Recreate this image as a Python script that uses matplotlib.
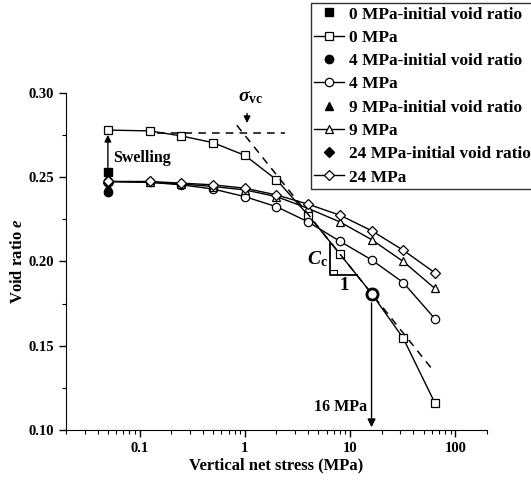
import matplotlib
matplotlib.use("Agg")
import matplotlib.pyplot as plt
import numpy as np

plt.rcParams['font.family'] = 'Liberation Serif'
plt.rcParams['font.weight'] = 'bold'
plt.rcParams['mathtext.fontset'] = 'custom'
plt.rcParams['mathtext.rm'] = 'Liberation Serif:bold'
plt.rcParams['mathtext.it'] = 'Liberation Serif:bold:italic'
plt.rcParams['mathtext.bf'] = 'Liberation Serif:bold'

# vertical net stress (MPa)
stress = [0.05, 0.125, 0.25, 0.5, 1, 2, 4, 8, 16, 32, 64]
# void ratio for each suction series
e_0 = [0.278, 0.2775, 0.2745, 0.2705, 0.263, 0.2485, 0.2275, 0.2045, 0.181, 0.1545, 0.116]
e_4 = [0.2475, 0.247, 0.2455, 0.243, 0.2385, 0.2325, 0.2235, 0.212, 0.201, 0.1875, 0.166]
e_9 = [0.2475, 0.247, 0.246, 0.2445, 0.2425, 0.2385, 0.2315, 0.2235, 0.213, 0.2, 0.184]
e_24 = [0.2475, 0.2475, 0.2465, 0.2455, 0.2435, 0.2395, 0.234, 0.2275, 0.2183, 0.2067, 0.1933]
# initial void ratios at the first stress
e_init = [0.253, 0.241, 0.2445, 0.2465]
suctions = ["0", "4", "9", "24"]
markers = ["s", "o", "^", "D"]

# construction lines (Casagrande)
e_horiz = 0.2763
cc_point = (16, 0.181)
cc_slope = 0.078

fig = plt.figure(figsize=(5.31, 4.86), dpi=100)
ax = fig.add_axes([66 / 531, 56 / 486, 421 / 531, 337 / 486])

handles = []
for i, (s, m, ev) in enumerate(zip(suctions, markers, [e_0, e_4, e_9, e_24])):
    ms = 5.5 if m == "D" else 6
    h1, = ax.plot([stress[0]], [e_init[i]], linestyle='none', marker=m, color='black',
                  markersize=ms, label=f"{s} MPa-initial void ratio", zorder=2)
    h2, = ax.plot(stress, ev, '-', color='black', linewidth=1, marker=m, markersize=ms,
                  markerfacecolor='white', markeredgecolor='black', markeredgewidth=0.9,
                  label=f"{s} MPa", zorder=3)
    handles += [h1, h2]

# dashed construction lines
ax.plot([0.145, 2.4], [e_horiz, e_horiz], '--', color='black', linewidth=1.1, dashes=(5, 4), zorder=4)
xs = np.array([0.84, 62])
ys = cc_point[1] - cc_slope * np.log10(xs / cc_point[0])
ax.plot(xs, ys, '--', color='black', linewidth=1.1, dashes=(5, 4), zorder=4)

# 16 MPa point
ax.plot([cc_point[0]], [cc_point[1]], 'o', markersize=8, markerfacecolor='white',
        markeredgecolor='black', markeredgewidth=2, zorder=6)
ax.annotate('', xy=(cc_point[0], 0.1), xytext=(cc_point[0], cc_point[1] - 0.004),
            arrowprops=dict(arrowstyle='-|>', color='black', lw=1, mutation_scale=12), zorder=5)
ax.text(14.5, 0.1135, '16 MPa', ha='right', va='center', fontsize=11.5, fontweight='bold')

# swelling arrow
ax.annotate('', xy=(stress[0], e_0[0] - 0.0012), xytext=(stress[0], e_init[0] + 0.0012),
            arrowprops=dict(arrowstyle='-|>', color='black', lw=1, mutation_scale=10))
ax.text(0.056, 0.2615, 'Swelling', ha='left', va='center', fontsize=11.5, fontweight='bold')

# sigma_vc arrow
ax.annotate('', xy=(1.05, 0.2805), xytext=(1.05, 0.2895),
            arrowprops=dict(arrowstyle='-|>', color='black', lw=1, mutation_scale=10))
ax.text(1.13, 0.2925, r'$\mathit{\sigma}_{\rm vc}$', ha='center', va='bottom', fontsize=14)

# Cc triangle
x_v = 6.5
e_b = 0.192
e_top = cc_point[1] - cc_slope * np.log10(x_v / cc_point[0])
x_end = cc_point[0] * 10 ** ((cc_point[1] - e_b) / cc_slope)
ax.plot([x_v, x_v, x_end], [e_top, e_b, e_b], '-', color='black', linewidth=1.3, zorder=5)
ax.plot([x_v, x_v * 1.15, x_v * 1.15], [e_b + 0.003, e_b + 0.003, e_b], '-', color='black', linewidth=0.8, zorder=5)
ax.text(6.2, 0.2015, r'$C_{\rm c}$', ha='right', va='center', fontsize=14)
ax.text(8.7, 0.1855, '1', ha='center', va='center', fontsize=13.5, fontweight='bold')

ax.set_xscale('log')
ax.set_xlim(0.02, 200)
ax.set_ylim(0.10, 0.30)
ax.set_xticks([0.1, 1, 10, 100])
ax.set_xticklabels(['0.1', '1', '10', '100'])
ax.set_yticks([0.10, 0.15, 0.20, 0.25, 0.30])
ax.set_yticks([0.125, 0.175, 0.225, 0.275], minor=True)
ax.yaxis.set_major_formatter(matplotlib.ticker.FormatStrFormatter('%.2f'))
ax.spines['top'].set_visible(False)
ax.spines['right'].set_visible(False)
ax.tick_params(axis='both', which='major', length=5, width=1, labelsize=10.5)
ax.tick_params(axis='both', which='minor', length=3, width=0.8)
for lab in ax.get_xticklabels() + ax.get_yticklabels():
    lab.set_fontweight('bold')

ax.set_xlabel('Vertical net stress (MPa)', fontsize=12, fontweight='bold', labelpad=2)
ax.set_ylabel(r'Void ratio $e$', fontsize=12, fontweight='bold', labelpad=2)

leg = fig.legend(handles=handles, loc='upper left', bbox_to_anchor=(311 / 531, 1 - 3 / 486),
                 fontsize=12.4, frameon=True, fancybox=False, edgecolor='black',
                 handlelength=1.7, handletextpad=0.3, labelspacing=0.42, borderpad=0.2,
                 borderaxespad=0)
leg.get_frame().set_linewidth(1)
for t in leg.get_texts():
    t.set_fontweight('bold')

fig.savefig('out.png', dpi=100)
